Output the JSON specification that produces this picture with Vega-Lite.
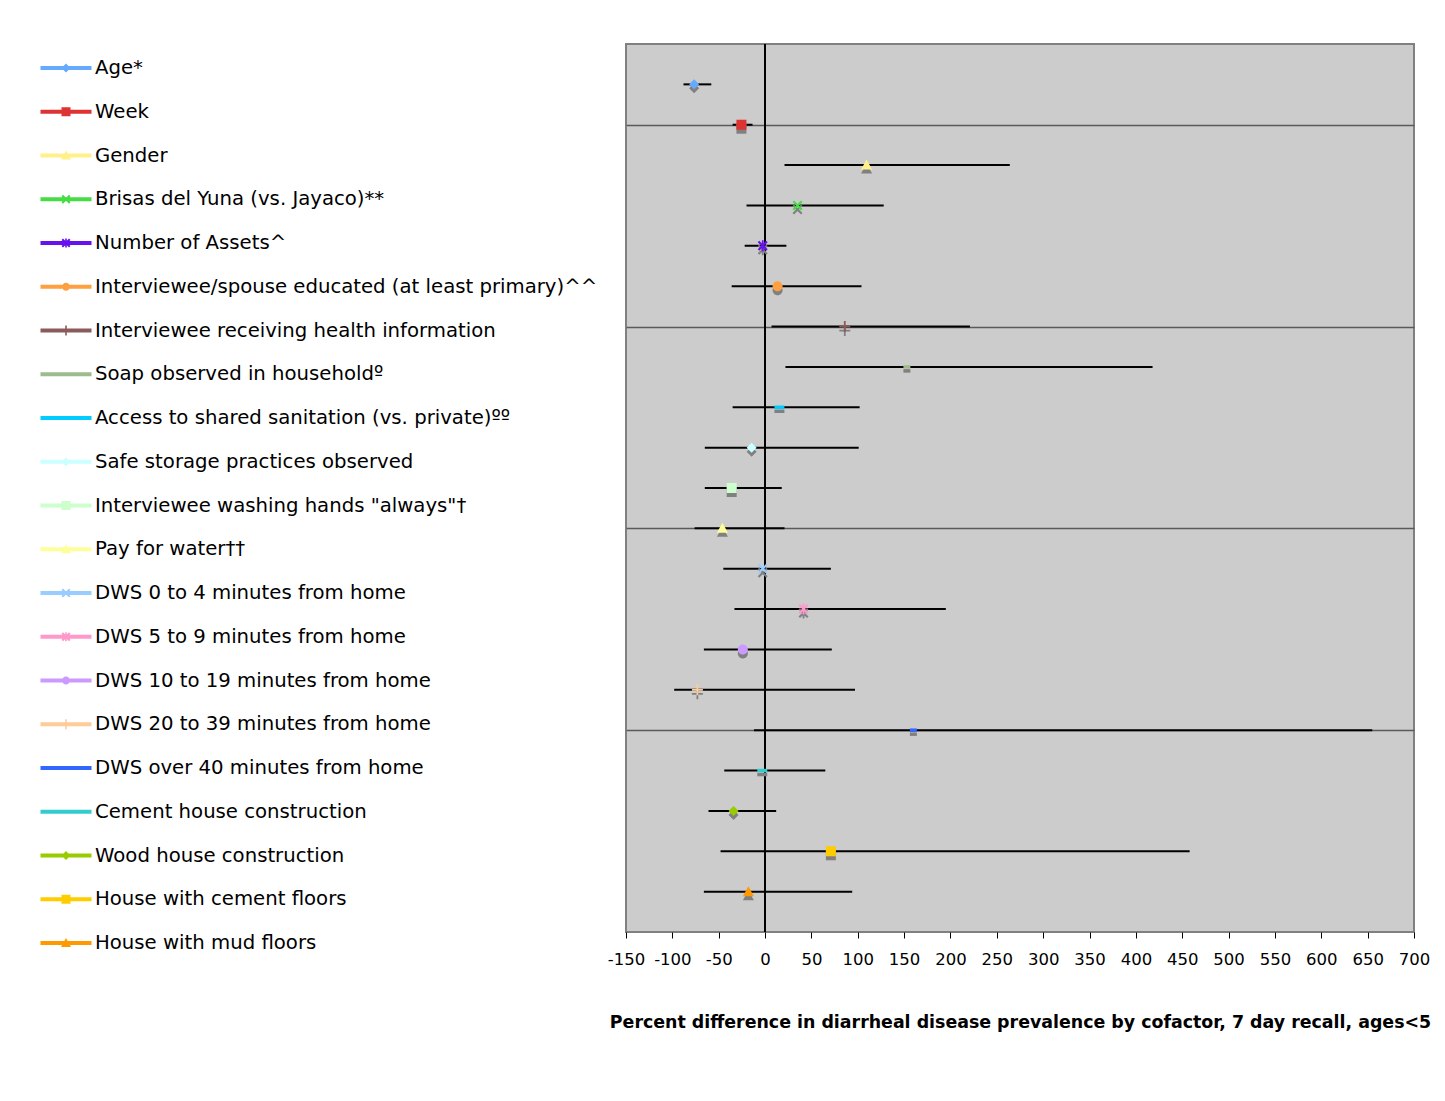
{
  "$schema": "https://vega.github.io/schema/vega-lite/v6.json",
  "width": 788,
  "height": 888,
  "autosize": {"type": "none"},
  "padding": {"left": 626, "top": 44, "right": 31, "bottom": 169},
  "background": "#ffffff",
  "data": {"values": [
    {"factor": "Age*", "pos": 21, "est": -76.5, "lo": -88, "hi": -58},
    {"factor": "Week", "pos": 20, "est": -25.5, "lo": -35, "hi": -13.5},
    {"factor": "Gender", "pos": 19, "est": 109.5, "lo": 21, "hi": 264},
    {"factor": "Brisas del Yuna (vs. Jayaco)**", "pos": 18, "est": 35, "lo": -20, "hi": 128},
    {"factor": "Number of Assets^", "pos": 17, "est": -2.5, "lo": -22, "hi": 23},
    {"factor": "Interviewee/spouse educated (at least primary)^^", "pos": 16, "est": 13.5, "lo": -36, "hi": 104},
    {"factor": "Interviewee receiving health information", "pos": 15, "est": 86, "lo": 7, "hi": 221},
    {"factor": "Soap observed in householdº", "pos": 14, "est": 153, "lo": 22, "hi": 418},
    {"factor": "Access to shared sanitation (vs. private)ºº", "pos": 13, "est": 15.5, "lo": -35, "hi": 102},
    {"factor": "Safe storage practices observed", "pos": 12, "est": -14.5, "lo": -65, "hi": 101},
    {"factor": "Interviewee washing hands \"always\"†", "pos": 11, "est": -36, "lo": -65, "hi": 18},
    {"factor": "Pay for water††", "pos": 10, "est": -46, "lo": -76, "hi": 21},
    {"factor": "DWS 0 to 4 minutes from home", "pos": 9, "est": -2.5, "lo": -45, "hi": 71},
    {"factor": "DWS 5 to 9 minutes from home", "pos": 8, "est": 41.5, "lo": -33, "hi": 195},
    {"factor": "DWS 10 to 19 minutes from home", "pos": 7, "est": -24, "lo": -66, "hi": 72},
    {"factor": "DWS 20 to 39 minutes from home", "pos": 6, "est": -73, "lo": -98, "hi": 97},
    {"factor": "DWS over 40 minutes from home", "pos": 5, "est": 160, "lo": -12, "hi": 655},
    {"factor": "Cement house construction", "pos": 4, "est": -3, "lo": -44, "hi": 65},
    {"factor": "Wood house construction", "pos": 3, "est": -34, "lo": -61, "hi": 12},
    {"factor": "House with cement floors", "pos": 2, "est": 71, "lo": -48, "hi": 458},
    {"factor": "House with mud floors", "pos": 1, "est": -18, "lo": -66, "hi": 94}
  ]},
  "resolve": {
    "scale": {"color": "independent", "shape": "independent"},
    "legend": {"color": "independent", "shape": "independent"}
  },
  "layer": [
    {
      "mark": {"type": "rule", "color": "#000000", "strokeWidth": 1.5},
      "encoding": {
        "x": {"datum": 0, "type": "quantitative", "scale": {"domain": [-150, 700], "nice": false, "zero": false}, "title": "Percent difference in diarrheal disease prevalence by cofactor, 7 day recall, ages<5"}
      }
    },
    {
      "mark": {"type": "rule", "color": "#000000", "strokeWidth": 2},
      "encoding": {
        "x": {"field": "lo", "type": "quantitative", "scale": {"domain": [-150, 700], "nice": false, "zero": false}, "title": "Percent difference in diarrheal disease prevalence by cofactor, 7 day recall, ages<5"},
        "x2": {"field": "hi"},
        "y": {"field": "pos", "type": "quantitative", "scale": {"domain": [0, 22], "nice": false, "zero": false}, "axis": {"values": [5, 10, 15, 20], "labels": false, "ticks": false, "domain": false, "grid": true, "gridColor": "#5a5a5a", "gridWidth": 1.5, "title": null}}
      }
    },
    {
      "mark": {"type": "point", "filled": true, "size": 100, "opacity": 1, "strokeWidth": 0, "color": "#808080", "yOffset": 4},
      "encoding": {
        "x": {"field": "est", "type": "quantitative", "scale": {"domain": [-150, 700], "nice": false, "zero": false}, "title": "Percent difference in diarrheal disease prevalence by cofactor, 7 day recall, ages<5"},
        "y": {"field": "pos", "type": "quantitative", "scale": {"domain": [0, 22], "nice": false, "zero": false}, "axis": {"values": [5, 10, 15, 20], "labels": false, "ticks": false, "domain": false, "grid": true, "gridColor": "#5a5a5a", "gridWidth": 1.5, "title": null}},
        "shape": {"field": "factor", "type": "nominal", "legend": null, "scale": {
          "domain": ["Age*", "Week", "Gender", "Brisas del Yuna (vs. Jayaco)**", "Number of Assets^", "Interviewee/spouse educated (at least primary)^^", "Interviewee receiving health information", "Soap observed in householdº", "Access to shared sanitation (vs. private)ºº", "Safe storage practices observed", "Interviewee washing hands \"always\"†", "Pay for water††", "DWS 0 to 4 minutes from home", "DWS 5 to 9 minutes from home", "DWS 10 to 19 minutes from home", "DWS 20 to 39 minutes from home", "DWS over 40 minutes from home", "Cement house construction", "Wood house construction", "House with cement floors", "House with mud floors"],
          "range": [
            "M0,-1L1,0L0,1L-1,0Z",
            "M-1,-1H1V1H-1Z",
            "M0,-1.1L1.1,0.9H-1.1Z",
            "M-1,-0.7L-0.7,-1L1,0.7L0.7,1Z M0.7,-1L1,-0.7L-0.7,1L-1,0.7Z",
            "M-1,-0.7L-0.7,-1L1,0.7L0.7,1Z M0.7,-1L1,-0.7L-0.7,1L-1,0.7Z M-0.18,-1.1H0.18V1.1H-0.18Z",
            "M-1,0A1,1 0 1,1 1,0A1,1 0 1,1 -1,0Z",
            "M-1.1,-0.18H1.1V0.18H-1.1Z M-0.18,-1.1H0.18V1.1H-0.18Z",
            "M-0.7,-0.35H0.7V0.35H-0.7Z",
            "M-1,-0.35H1V0.35H-1Z",
            "M0,-1L1,0L0,1L-1,0Z",
            "M-1,-1H1V1H-1Z",
            "M0,-1.1L1.1,0.9H-1.1Z",
            "M-1,-0.7L-0.7,-1L1,0.7L0.7,1Z M0.7,-1L1,-0.7L-0.7,1L-1,0.7Z",
            "M-1,-0.7L-0.7,-1L1,0.7L0.7,1Z M0.7,-1L1,-0.7L-0.7,1L-1,0.7Z M-0.18,-1.1H0.18V1.1H-0.18Z",
            "M-1,0A1,1 0 1,1 1,0A1,1 0 1,1 -1,0Z",
            "M-1.1,-0.18H1.1V0.18H-1.1Z M-0.18,-1.1H0.18V1.1H-0.18Z",
            "M-0.7,-0.35H0.7V0.35H-0.7Z",
            "M-1,-0.35H1V0.35H-1Z",
            "M0,-1L1,0L0,1L-1,0Z",
            "M-1,-1H1V1H-1Z",
            "M0,-1.1L1.1,0.9H-1.1Z"
          ]}}
      }
    },
    {
      "mark": {"type": "point", "filled": true, "size": 100, "opacity": 1, "strokeWidth": 0},
      "encoding": {
        "x": {"field": "est", "type": "quantitative", "scale": {"domain": [-150, 700], "nice": false, "zero": false}, "title": "Percent difference in diarrheal disease prevalence by cofactor, 7 day recall, ages<5"},
        "y": {"field": "pos", "type": "quantitative", "scale": {"domain": [0, 22], "nice": false, "zero": false}, "axis": {"values": [5, 10, 15, 20], "labels": false, "ticks": false, "domain": false, "grid": true, "gridColor": "#5a5a5a", "gridWidth": 1.5, "title": null}},
        "color": {"field": "factor", "type": "nominal", "legend": null, "scale": {
          "domain": ["Age*", "Week", "Gender", "Brisas del Yuna (vs. Jayaco)**", "Number of Assets^", "Interviewee/spouse educated (at least primary)^^", "Interviewee receiving health information", "Soap observed in householdº", "Access to shared sanitation (vs. private)ºº", "Safe storage practices observed", "Interviewee washing hands \"always\"†", "Pay for water††", "DWS 0 to 4 minutes from home", "DWS 5 to 9 minutes from home", "DWS 10 to 19 minutes from home", "DWS 20 to 39 minutes from home", "DWS over 40 minutes from home", "Cement house construction", "Wood house construction", "House with cement floors", "House with mud floors"],
          "range": ["#66aaff", "#dd3333", "#fff08a", "#44dd44", "#6611ee", "#ffa040", "#8b5a5a", "#9dbb8c", "#00ccff", "#ccffff", "#ccffcc", "#ffff99", "#99ccff", "#ff99cc", "#cc99ff", "#ffcc99", "#3366ff", "#33cccc", "#99cc00", "#ffcc00", "#ff9900"]}},
        "shape": {"field": "factor", "type": "nominal", "legend": null, "scale": {
          "domain": ["Age*", "Week", "Gender", "Brisas del Yuna (vs. Jayaco)**", "Number of Assets^", "Interviewee/spouse educated (at least primary)^^", "Interviewee receiving health information", "Soap observed in householdº", "Access to shared sanitation (vs. private)ºº", "Safe storage practices observed", "Interviewee washing hands \"always\"†", "Pay for water††", "DWS 0 to 4 minutes from home", "DWS 5 to 9 minutes from home", "DWS 10 to 19 minutes from home", "DWS 20 to 39 minutes from home", "DWS over 40 minutes from home", "Cement house construction", "Wood house construction", "House with cement floors", "House with mud floors"],
          "range": [
            "M0,-1L1,0L0,1L-1,0Z",
            "M-1,-1H1V1H-1Z",
            "M0,-1.1L1.1,0.9H-1.1Z",
            "M-1,-0.7L-0.7,-1L1,0.7L0.7,1Z M0.7,-1L1,-0.7L-0.7,1L-1,0.7Z",
            "M-1,-0.7L-0.7,-1L1,0.7L0.7,1Z M0.7,-1L1,-0.7L-0.7,1L-1,0.7Z M-0.18,-1.1H0.18V1.1H-0.18Z",
            "M-1,0A1,1 0 1,1 1,0A1,1 0 1,1 -1,0Z",
            "M-1.1,-0.18H1.1V0.18H-1.1Z M-0.18,-1.1H0.18V1.1H-0.18Z",
            "M-0.7,-0.35H0.7V0.35H-0.7Z",
            "M-1,-0.35H1V0.35H-1Z",
            "M0,-1L1,0L0,1L-1,0Z",
            "M-1,-1H1V1H-1Z",
            "M0,-1.1L1.1,0.9H-1.1Z",
            "M-1,-0.7L-0.7,-1L1,0.7L0.7,1Z M0.7,-1L1,-0.7L-0.7,1L-1,0.7Z",
            "M-1,-0.7L-0.7,-1L1,0.7L0.7,1Z M0.7,-1L1,-0.7L-0.7,1L-1,0.7Z M-0.18,-1.1H0.18V1.1H-0.18Z",
            "M-1,0A1,1 0 1,1 1,0A1,1 0 1,1 -1,0Z",
            "M-1.1,-0.18H1.1V0.18H-1.1Z M-0.18,-1.1H0.18V1.1H-0.18Z",
            "M-0.7,-0.35H0.7V0.35H-0.7Z",
            "M-1,-0.35H1V0.35H-1Z",
            "M0,-1L1,0L0,1L-1,0Z",
            "M-1,-1H1V1H-1Z",
            "M0,-1.1L1.1,0.9H-1.1Z"
          ]}}
      }
    },
    {
      "transform": [{"filter": "datum.pos > 100"}],
      "mark": {"type": "point", "filled": true, "size": 400, "opacity": 1, "strokeWidth": 0},
      "encoding": {
        "x": {"field": "est", "type": "quantitative", "scale": {"domain": [-150, 700], "nice": false, "zero": false}, "title": "Percent difference in diarrheal disease prevalence by cofactor, 7 day recall, ages<5"},
        "y": {"field": "pos", "type": "quantitative", "scale": {"domain": [0, 22], "nice": false, "zero": false}, "axis": {"values": [5, 10, 15, 20], "labels": false, "ticks": false, "domain": false, "grid": true, "gridColor": "#5a5a5a", "gridWidth": 1.5, "title": null}},
        "color": {"field": "factor", "type": "nominal", "legend": {"title": null, "orient": "none", "legendX": -570, "legendY": 14, "direction": "vertical"}, "scale": {
          "domain": ["Age*", "Week", "Gender", "Brisas del Yuna (vs. Jayaco)**", "Number of Assets^", "Interviewee/spouse educated (at least primary)^^", "Interviewee receiving health information", "Soap observed in householdº", "Access to shared sanitation (vs. private)ºº", "Safe storage practices observed", "Interviewee washing hands \"always\"†", "Pay for water††", "DWS 0 to 4 minutes from home", "DWS 5 to 9 minutes from home", "DWS 10 to 19 minutes from home", "DWS 20 to 39 minutes from home", "DWS over 40 minutes from home", "Cement house construction", "Wood house construction", "House with cement floors", "House with mud floors"],
          "range": ["#66aaff", "#dd3333", "#fff08a", "#44dd44", "#6611ee", "#ffa040", "#8b5a5a", "#9dbb8c", "#00ccff", "#ccffff", "#ccffcc", "#ffff99", "#99ccff", "#ff99cc", "#cc99ff", "#ffcc99", "#3366ff", "#33cccc", "#99cc00", "#ffcc00", "#ff9900"]}},
        "shape": {"field": "factor", "type": "nominal", "legend": {"title": null, "orient": "none", "legendX": -570, "legendY": 14, "direction": "vertical"}, "scale": {
          "domain": ["Age*", "Week", "Gender", "Brisas del Yuna (vs. Jayaco)**", "Number of Assets^", "Interviewee/spouse educated (at least primary)^^", "Interviewee receiving health information", "Soap observed in householdº", "Access to shared sanitation (vs. private)ºº", "Safe storage practices observed", "Interviewee washing hands \"always\"†", "Pay for water††", "DWS 0 to 4 minutes from home", "DWS 5 to 9 minutes from home", "DWS 10 to 19 minutes from home", "DWS 20 to 39 minutes from home", "DWS over 40 minutes from home", "Cement house construction", "Wood house construction", "House with cement floors", "House with mud floors"],
          "range": [
            "M-2.55,-0.2H2.55V0.2H-2.55Z M0,-0.45L0.45,0L0,0.45L-0.45,0Z",
            "M-2.55,-0.2H2.55V0.2H-2.55Z M-0.45,-0.45H0.45V0.45H-0.45Z",
            "M-2.55,-0.2H2.55V0.2H-2.55Z M0,-0.5L0.5,0.4H-0.5Z",
            "M-2.55,-0.2H2.55V0.2H-2.55Z M-0.45,-0.3L-0.3,-0.45L0.45,0.3L0.3,0.45Z M0.3,-0.45L0.45,-0.3L-0.3,0.45L-0.45,0.3Z",
            "M-2.55,-0.2H2.55V0.2H-2.55Z M-0.45,-0.3L-0.3,-0.45L0.45,0.3L0.3,0.45Z M0.3,-0.45L0.45,-0.3L-0.3,0.45L-0.45,0.3Z M-0.08,-0.45H0.08V0.45H-0.08Z",
            "M-2.55,-0.2H2.55V0.2H-2.55Z M-0.4,0A0.4,0.4 0 1,1 0.4,0A0.4,0.4 0 1,1 -0.4,0Z",
            "M-2.55,-0.2H2.55V0.2H-2.55Z M-0.08,-0.5H0.08V0.5H-0.08Z",
            "M-2.55,-0.2H2.55V0.2H-2.55Z",
            "M-2.55,-0.2H2.55V0.2H-2.55Z",
            "M-2.55,-0.2H2.55V0.2H-2.55Z M0,-0.45L0.45,0L0,0.45L-0.45,0Z",
            "M-2.55,-0.2H2.55V0.2H-2.55Z M-0.45,-0.45H0.45V0.45H-0.45Z",
            "M-2.55,-0.2H2.55V0.2H-2.55Z M0,-0.5L0.5,0.4H-0.5Z",
            "M-2.55,-0.2H2.55V0.2H-2.55Z M-0.45,-0.3L-0.3,-0.45L0.45,0.3L0.3,0.45Z M0.3,-0.45L0.45,-0.3L-0.3,0.45L-0.45,0.3Z",
            "M-2.55,-0.2H2.55V0.2H-2.55Z M-0.45,-0.3L-0.3,-0.45L0.45,0.3L0.3,0.45Z M0.3,-0.45L0.45,-0.3L-0.3,0.45L-0.45,0.3Z M-0.08,-0.45H0.08V0.45H-0.08Z",
            "M-2.55,-0.2H2.55V0.2H-2.55Z M-0.4,0A0.4,0.4 0 1,1 0.4,0A0.4,0.4 0 1,1 -0.4,0Z",
            "M-2.55,-0.2H2.55V0.2H-2.55Z M-0.08,-0.5H0.08V0.5H-0.08Z",
            "M-2.55,-0.2H2.55V0.2H-2.55Z",
            "M-2.55,-0.2H2.55V0.2H-2.55Z",
            "M-2.55,-0.2H2.55V0.2H-2.55Z M0,-0.45L0.45,0L0,0.45L-0.45,0Z",
            "M-2.55,-0.2H2.55V0.2H-2.55Z M-0.45,-0.45H0.45V0.45H-0.45Z",
            "M-2.55,-0.2H2.55V0.2H-2.55Z M0,-0.5L0.5,0.4H-0.5Z"
          ]}}
      }
    }
  ],
  "config": {
    "view": {"fill": "#cccccc", "stroke": "#808080", "strokeWidth": 2},
    "axisX": {
      "values": [-150, -100, -50, 0, 50, 100, 150, 200, 250, 300, 350, 400, 450, 500, 550, 600, 650, 700],
      "labelExpr": "'' + datum.value",
      "labelFont": "DejaVu Sans", "labelFontSize": 16.5, "labelColor": "#000000",
      "tickColor": "#000000", "tickSize": 6, "tickWidth": 1,
      "labelPadding": 13, "labelFlush": false, "labelOverlap": false,
      "domain": false, "grid": false,
      "titleFont": "DejaVu Sans", "titleFontSize": 17.4, "titleFontWeight": "bold", "titleColor": "#000000", "titlePadding": 46
    },
    "legend": {
      "labelFont": "DejaVu Sans", "labelFontSize": 19.7, "labelColor": "#000000", "labelLimit": 700,
      "symbolStrokeWidth": 0, "symbolSize": 400, "symbolOpacity": 1,
      "rowPadding": 23.75, "labelOffset": 19, "padding": 0
    }
  }
}
